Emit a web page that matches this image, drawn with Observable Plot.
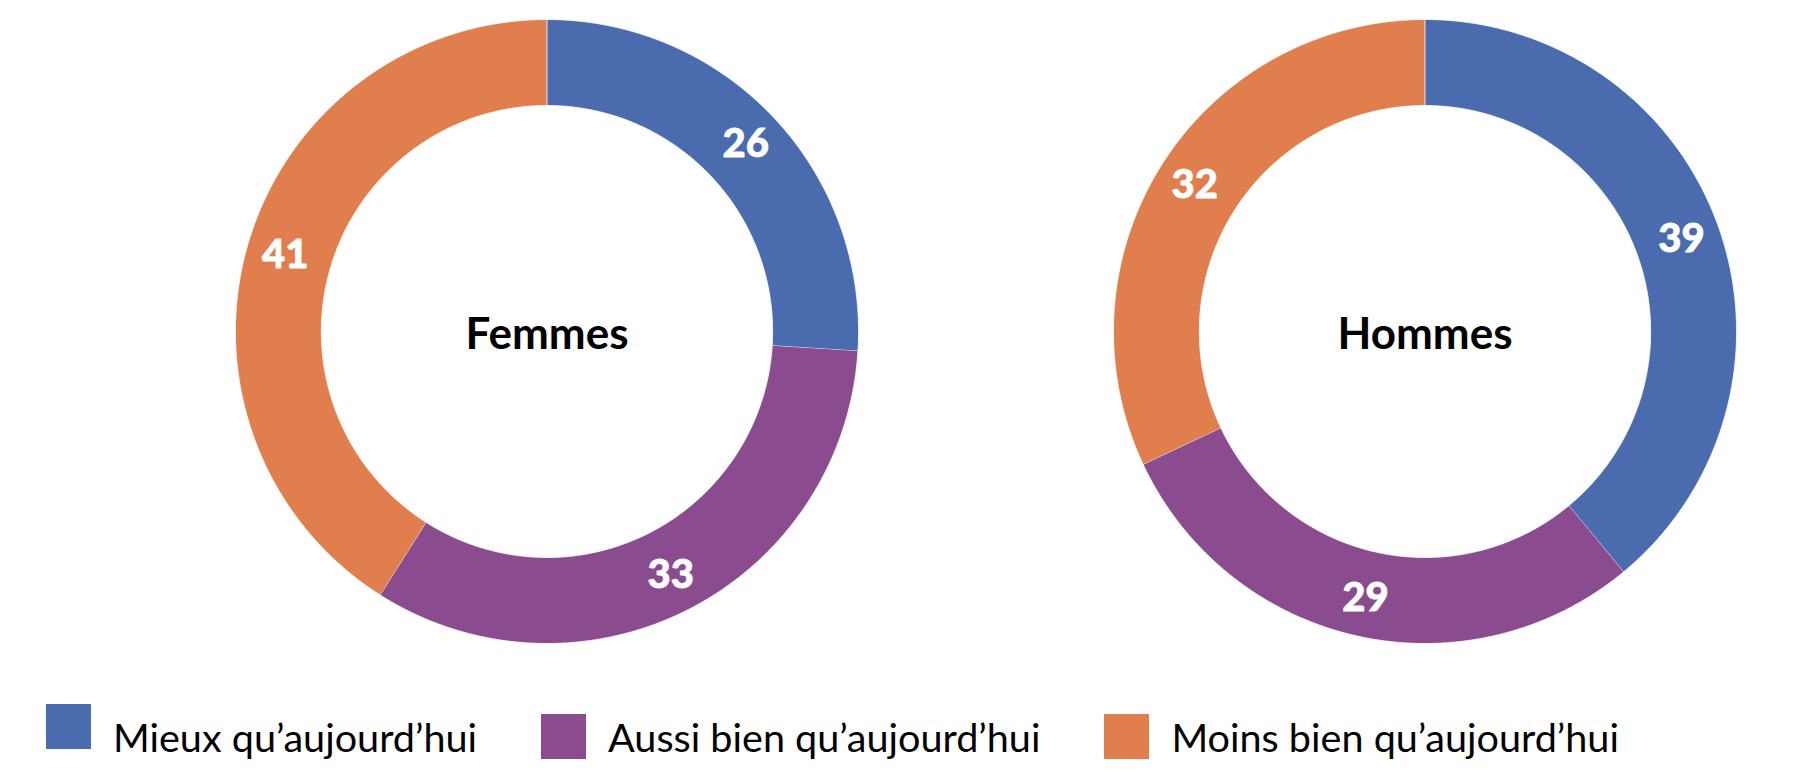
<!DOCTYPE html>
<html><head><meta charset="utf-8">
<script src="https://cdn.jsdelivr.net/npm/d3@7"></script>
<script src="https://cdn.jsdelivr.net/npm/@observablehq/plot@0.6"></script>
<style>
html,body{margin:0;padding:0;background:#fff;}
body{font-family:Lato, "Noto Sans", sans-serif;width:1820px;height:782px;overflow:hidden;}
#legend{display:flex;align-items:flex-start;padding-left:46px;margin-top:34px;}
.item{display:flex;align-items:center;margin-right:64px;font-size:39.6px;color:#000;line-height:45px;}
.sw{width:45px;height:45px;margin-right:22px;flex:none;}
</style></head>
<body>
<div id="chart"></div>
<div id="legend"></div>
<script>
const groups = ["Femmes", "Hommes"];
const categories = ["Mieux qu’aujourd’hui", "Aussi bien qu’aujourd’hui", "Moins bien qu’aujourd’hui"];
const femmes = [26, 33, 41];
const hommes = [39, 29, 32];
const colors = ["#4A6BAD", "#8A4C8F", "#E07E4E"];

const valuesByGroup = {Femmes: femmes, Hommes: hommes};
const segments = [];
for (const g of groups) {
  const v = valuesByGroup[g];
  const total = d3.sum(v);
  let acc = 0;
  v.forEach((val, i) => {
    segments.push({group: g, category: categories[i], value: val, start: acc / total, end: (acc + val) / total});
    acc += val;
  });
}

const R = 1, r0 = 226 / 312, rLabel = 0.875;
const ring = segments.flatMap(s => {
  const pts = [];
  const n = Math.max(2, Math.ceil((s.end - s.start) * 720));
  for (let k = 0; k <= n; k++) {
    const a = 2 * Math.PI * (s.start + (s.end - s.start) * k / n);
    pts.push({group: s.group, category: s.category, x: R * Math.sin(a), y: R * Math.cos(a)});
  }
  for (let k = n; k >= 0; k--) {
    const a = 2 * Math.PI * (s.start + (s.end - s.start) * k / n);
    pts.push({group: s.group, category: s.category, x: r0 * Math.sin(a), y: r0 * Math.cos(a)});
  }
  return pts;
});
const mid = s => 2 * Math.PI * (s.start + s.end) / 2;

const chart = Plot.plot({
  width: 1820,
  height: 680,
  marginLeft: 196,
  marginRight: 45,
  marginTop: 19,
  marginBottom: 37,
  style: {fontFamily: "Lato, 'Noto Sans', sans-serif", background: "white"},
  fx: {domain: groups, paddingInner: 0.2036, paddingOuter: 0, axis: null, label: null},
  x: {domain: [-350 / 312, 350 / 312], axis: null},
  y: {domain: [-1, 1], axis: null},
  color: {domain: categories, range: colors},
  marks: [
    Plot.line(ring, {fx: "group", x: "x", y: "y", z: d => d.group + "|" + d.category, fill: "category", stroke: "white", strokeWidth: 0.8, curve: "linear"}),
    Plot.text(segments, {
      fx: "group",
      x: s => rLabel * Math.sin(mid(s)),
      y: s => rLabel * Math.cos(mid(s)),
      text: s => String(s.value),
      fill: "white", fontSize: 40, fontWeight: 900, stroke: "white", strokeWidth: 0.8
    }),
    Plot.text(groups, {fx: d => d, x: () => 0, y: () => 0, text: d => d, fill: "black", fontSize: 44, fontWeight: 700, dy: 3})
  ]
});
document.getElementById("chart").appendChild(chart);

const legend = document.getElementById("legend");
categories.forEach((c, i) => {
  const item = document.createElement("div");
  item.className = "item";
  const sw = document.createElement("div");
  sw.className = "sw";
  sw.style.background = colors[i];
  if (i === 0) sw.style.transform = "translateY(-10px)";
  const t = document.createElement("span");
  t.textContent = c;
  item.appendChild(sw);
  item.appendChild(t);
  legend.appendChild(item);
});
</script>
</body></html>
